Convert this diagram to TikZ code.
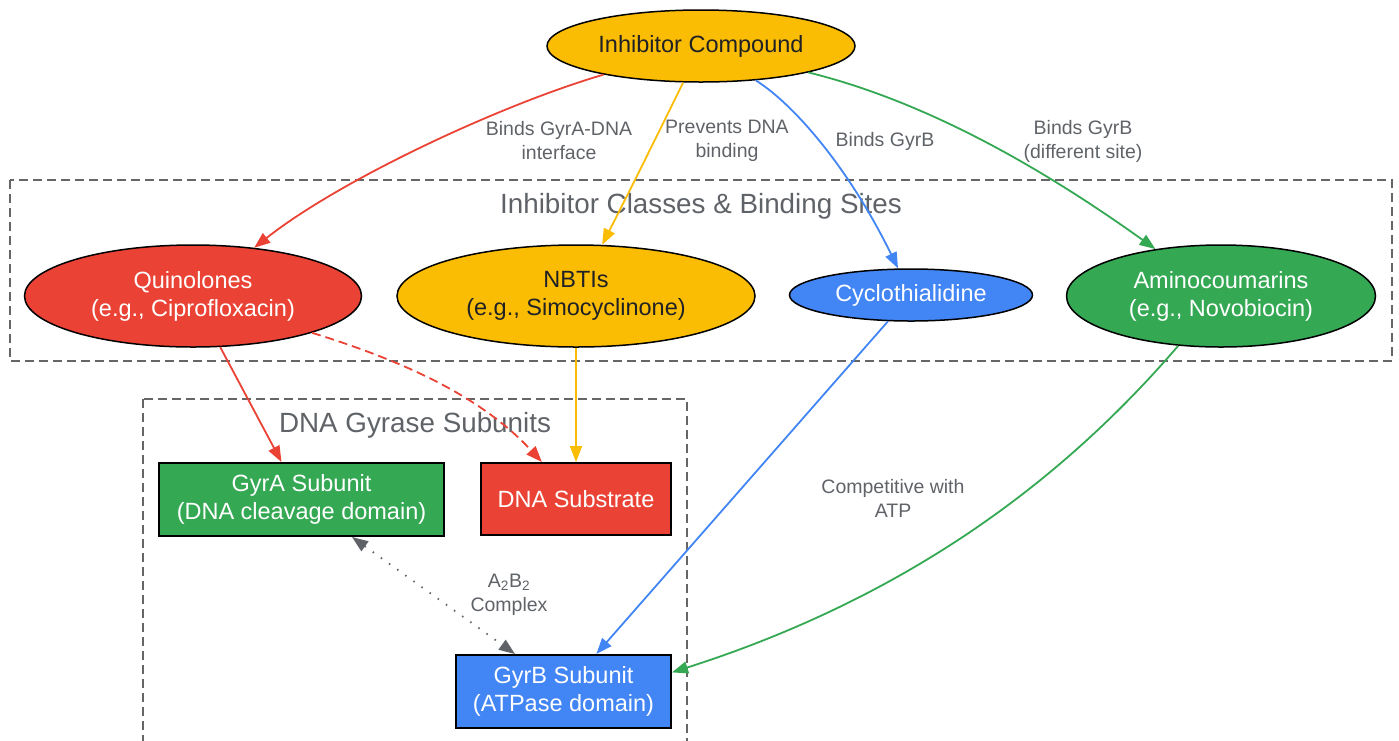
\documentclass[tikz,border=0pt]{standalone}
\usepackage{fontspec}
\setmainfont{Liberation Sans}
\usetikzlibrary{shapes.geometric,arrows.meta,calc}
\definecolor{gred}{HTML}{EA4335}
\definecolor{gyellow}{HTML}{FBBC04}
\definecolor{gblue}{HTML}{4285F4}
\definecolor{ggreen}{HTML}{34A853}
\definecolor{lblgray}{HTML}{5F6368}
\definecolor{clgray}{HTML}{666666}
\definecolor{darktext}{HTML}{202124}
\tikzset{
  ell/.style={ellipse, draw=black, line width=1.5pt, inner sep=0pt, align=center,
    font=\fontsize{23.5}{28}\selectfont},
  boxn/.style={rectangle, draw=black, line width=2pt, inner sep=0pt, align=center,
    font=\fontsize{23.5}{28}\selectfont},
  cluster/.style={draw=clgray, line width=1.5pt, dash pattern=on 9pt off 5pt},
  cltitle/.style={text=lblgray, font=\fontsize{27.8}{32}\selectfont, inner sep=0pt},
  elabel/.style={text=lblgray, align=center, font=\fontsize{19.5}{24}\selectfont, inner sep=0pt},
  edge/.style={line width=1.8pt, -{Triangle[length=16pt,width=12pt]}},
}
\begin{document}
\begin{tikzpicture}[x=1pt,y=-1pt]
\useasboundingbox (0,0) rectangle (1399,740);
% clusters
\draw[cluster] (10,180) rectangle (1392,361);
\node[cltitle] (t1) at (701,206) {Inhibitor Classes \& Binding Sites};
\draw[cluster] (143,399) rectangle (687,770);
\node[cltitle] (t2) at (415,425) {DNA Gyrase Subunits};
% nodes
\node[ell, fill=gyellow, text=darktext, minimum width=308pt, minimum height=72pt] (ic) at (701,46) {Inhibitor Compound};
\node[ell, fill=gred, text=white, minimum width=337pt, minimum height=102pt] (q) at (193,296) {Quinolones\\(e.g., Ciprofloxacin)};
\node[ell, fill=gyellow, text=darktext, minimum width=358pt, minimum height=102pt] (nb) at (576,296) {NBTIs\\(e.g., Simocyclinone)};
\node[ell, fill=gblue, text=white, minimum width=243pt, minimum height=52pt] (cy) at (911,295) {Cyclothialidine};
\node[ell, fill=ggreen, text=white, minimum width=309pt, minimum height=102pt] (am) at (1221,296) {Aminocoumarins\\(e.g., Novobiocin)};
\node[boxn, fill=ggreen, text=white, minimum width=285pt, minimum height=73pt] (ga) at (301.5,499.5) {GyrA Subunit\\(DNA cleavage domain)};
\node[boxn, fill=gred, text=white, minimum width=190pt, minimum height=72pt] (ds) at (576,499) {DNA Substrate};
\node[boxn, fill=gblue, text=white, minimum width=215pt, minimum height=73pt] (gb) at (563.5,691.5) {GyrB Subunit\\(ATPase domain)};
% edges
\draw[edge, gred] (ic) .. controls (500,105) and (340,180) .. (q);
\node[elabel] (l1) at (559,141) {Binds GyrA-DNA\\interface};
\draw[edge, gyellow] (ic) .. controls (655,140) and (625,200) .. (nb);
\node[elabel] (l2) at (727,141) {Prevents DNA\\binding};
\draw[edge, gblue] (ic) .. controls (795,105) and (850,170) .. (cy);
\node[elabel] (l3) at (885,141) {Binds GyrB};
\draw[edge, ggreen] (ic) .. controls (900,95) and (1010,145) .. (am);
\node[elabel] (l4) at (1083,141) {Binds GyrB\\(different site)};
\draw[edge, gred] (q) -- (ga);
\draw[edge, gred, dash pattern=on 9pt off 5pt] (q) .. controls (400,360) and (480,395) .. (ds);
\draw[edge, gyellow] (nb) -- (ds);
\draw[edge, gblue] (cy) -- (gb);
\draw[edge, ggreen] (am) .. controls (1080,460) and (930,590) .. (gb.10);
\node[elabel] (l5) at (893,498) {Competitive with\\ATP};
\draw[line width=1.8pt, lblgray, dash pattern=on 1.5pt off 8.5pt,
  {Triangle[length=16pt,width=12pt]}-{Triangle[length=16pt,width=12pt]}]
  ($(ga.south)+(50.5,0)$) -- ($(gb.north)+(-48.5,0)$);
\node[elabel] (l6) at (509,595) {A\textsubscript{2}B\textsubscript{2}\\Complex};
\end{tikzpicture}
\end{document}
